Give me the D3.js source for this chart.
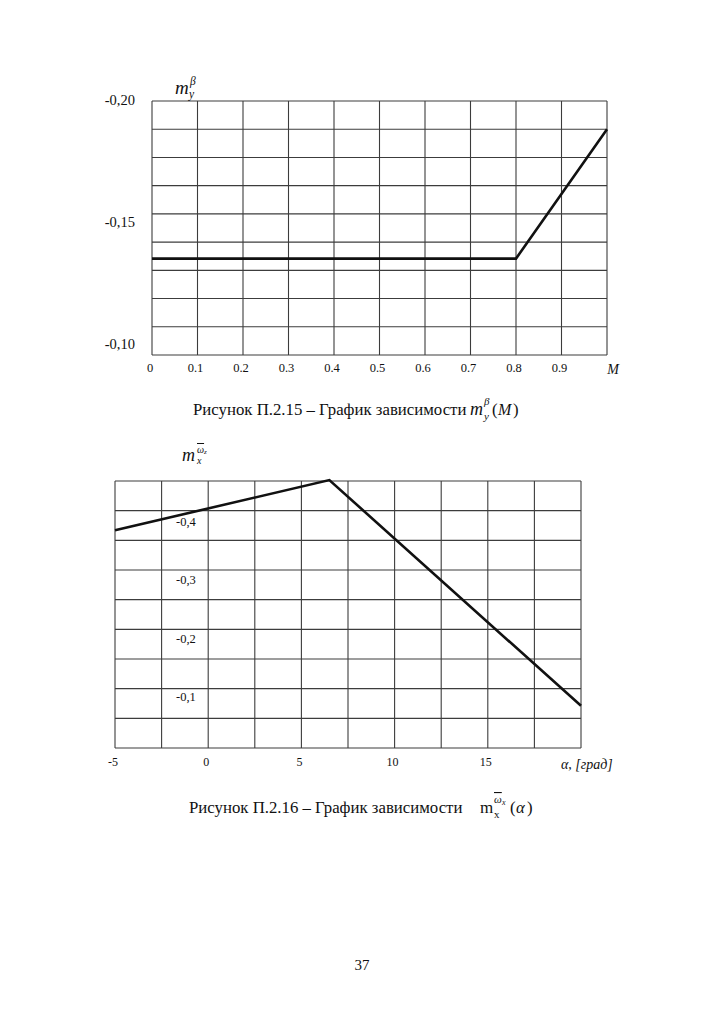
<!DOCTYPE html>
<html>
<head>
<meta charset="utf-8">
<script src="https://cdn.jsdelivr.net/npm/d3@7"></script>
<style>
  body { margin: 0; background: #fff; }
  text { fill: #111; }
</style>
</head>
<body>
<div class="page"></div>
<script>
/* global d3 */
// chart 1: m_y^beta (M)
var machValues = [0, 0.8, 1.0]
var myBetaValues = [-0.135, -0.135, -0.188]
var machTicks = [0, 0.1, 0.2, 0.3, 0.4, 0.5, 0.6, 0.7, 0.8, 0.9]
var machTickLabels = ['0', '0.1', '0.2', '0.3', '0.4', '0.5', '0.6', '0.7', '0.8', '0.9']
var myBetaTicks = [-0.20, -0.15, -0.10]
var myBetaTickLabels = ['-0,20', '-0,15', '-0,10']

// chart 2: m_x^omega_x (alpha)
var alphaValues = [-5, 6.5, 20]
var mxOmegaValues = [-0.385, -0.471, -0.084]
var alphaTicks = [-5, 0, 5, 10, 15]
var alphaTickLabels = ['-5', '0', '5', '10', '15']
var mxOmegaTicks = [-0.4, -0.3, -0.2, -0.1]
var mxOmegaTickLabels = ['-0,4', '-0,3', '-0,2', '-0,1']

;(function () {
  var width = 724
  var height = 1024
  var gridColor = '#3c3c3c'

  var svg = d3.select('.page')
    .append('svg')
    .attr('width', width)
    .attr('height', height)
    .attr('font-family', "'Liberation Serif', 'Times New Roman', serif")

  svg.append('rect')
    .attr('width', width)
    .attr('height', height)
    .attr('fill', '#fff')

  // draws the frame and an evenly divided grid of the plot box
  function grid (g, box, cols, rows) {
    g.selectAll('.vgrid')
      .data(d3.range(cols + 1))
      .enter()
      .append('line')
      .attr('x1', function (d) { return box.left + d * (box.right - box.left) / cols })
      .attr('x2', function (d) { return box.left + d * (box.right - box.left) / cols })
      .attr('y1', box.top)
      .attr('y2', box.bottom)
      .attr('stroke', gridColor)
      .attr('stroke-width', 1.1)

    g.selectAll('.hgrid')
      .data(d3.range(rows + 1))
      .enter()
      .append('line')
      .attr('x1', box.left)
      .attr('x2', box.right)
      .attr('y1', function (d) { return box.top + d * (box.bottom - box.top) / rows })
      .attr('y2', function (d) { return box.top + d * (box.bottom - box.top) / rows })
      .attr('stroke', gridColor)
      .attr('stroke-width', 1.1)
  }

  function txt (g, x, y, s, size, opts) {
    opts = opts || {}
    return g.append('text')
      .attr('x', x)
      .attr('y', y)
      .attr('font-size', size + 'px')
      .attr('font-style', opts.italic ? 'italic' : null)
      .attr('text-anchor', opts.anchor || 'start')
      .attr('text-decoration', opts.bar ? 'overline' : null)
      .text(s)
  }

  // ---------- chart 1 ----------
  var box1 = { left: 152, right: 607, top: 101, bottom: 355 }
  var g1 = svg.append('g')
  var x1 = d3.scaleLinear().domain([0, 1]).range([box1.left, box1.right])
  var y1 = d3.scaleLinear().domain([-0.20, -0.10]).range([100, 344])

  grid(g1, box1, 10, 9)

  g1.append('path')
    .datum(machValues.map(function (d, i) { return [d, myBetaValues[i]] }))
    .attr('fill', 'none')
    .attr('stroke', '#111')
    .attr('stroke-width', 2.6)
    .attr('d', d3.line()
      .x(function (d) { return x1(d[0]) })
      .y(function (d) { return y1(d[1]) }))

  g1.selectAll('.ylab')
    .data(myBetaTicks)
    .enter()
    .append('text')
    .attr('x', 135)
    .attr('y', function (d) { return y1(d) })
    .attr('dy', '0.35em')
    .attr('text-anchor', 'end')
    .attr('font-size', '14.5px')
    .text(function (d, i) { return myBetaTickLabels[i] })

  g1.selectAll('.xlab')
    .data(machTicks)
    .enter()
    .append('text')
    .attr('x', function (d) { return x1(d) - 2 })
    .attr('y', 372)
    .attr('text-anchor', 'middle')
    .attr('font-size', '12.5px')
    .text(function (d, i) { return machTickLabels[i] })

  txt(g1, 613, 374, 'M', 14, { italic: true, anchor: 'middle' })

  // axis title m_y^beta
  txt(g1, 175, 94, 'm', 19, { italic: true })
  txt(g1, 189, 98, 'y', 11.5, { italic: true })
  txt(g1, 190, 85, 'β', 11.5, { italic: true })

  // caption 1
  txt(svg, 193, 415, 'Рисунок П.2.15 – График зависимости', 16.8)
  txt(svg, 470, 415, 'm', 18, { italic: true })
  txt(svg, 484, 420, 'y', 11, { italic: true })
  txt(svg, 484, 405, 'β', 11, { italic: true })
  txt(svg, 492, 415, '(', 16.8)
  txt(svg, 498, 415, 'M', 16, { italic: true })
  txt(svg, 513, 415, ')', 16.8)

  // ---------- chart 2 ----------
  var box2 = { left: 115, right: 581, top: 481, bottom: 748 }
  var g2 = svg.append('g')
  var x2 = d3.scaleLinear().domain([-5, 20]).range([box2.left, box2.right])
  var y2 = d3.scaleLinear().domain([-0.4, -0.1]).range([521.5, 696.5])

  grid(g2, box2, 10, 9)

  g2.append('path')
    .datum(alphaValues.map(function (d, i) { return [d, mxOmegaValues[i]] }))
    .attr('fill', 'none')
    .attr('stroke', '#111')
    .attr('stroke-width', 2.6)
    .attr('d', d3.line()
      .x(function (d) { return x2(d[0]) })
      .y(function (d) { return y2(d[1]) }))

  g2.selectAll('.ylab')
    .data(mxOmegaTicks)
    .enter()
    .append('text')
    .attr('x', 176)
    .attr('y', function (d) { return y2(d) })
    .attr('dy', '0.35em')
    .attr('font-size', '12.5px')
    .text(function (d, i) { return mxOmegaTickLabels[i] })

  g2.selectAll('.xlab')
    .data(alphaTicks)
    .enter()
    .append('text')
    .attr('x', function (d) { return x2(d) - 2 })
    .attr('y', 766)
    .attr('text-anchor', 'middle')
    .attr('font-size', '12px')
    .text(function (d, i) { return alphaTickLabels[i] })

  txt(g2, 561, 769, 'α, [град]', 14, { italic: true })

  // axis title m_x^omega_z
  txt(g2, 182, 461, 'm', 18, { italic: true })
  txt(g2, 197, 464, 'x', 10, { italic: true })
  txt(g2, 197, 453, 'ω', 10, { italic: true, bar: true })
  txt(g2, 204, 454, 'z', 7, { italic: true })

  // caption 2
  txt(svg, 189, 813, 'Рисунок П.2.16 – График зависимости', 16.8)
  txt(svg, 480, 813, 'm', 17)
  txt(svg, 494, 818, 'x', 11)
  txt(svg, 494, 803, 'ω', 11, { italic: true, bar: true })
  txt(svg, 502, 805, 'x', 8, { italic: true })
  txt(svg, 510, 813, '(', 16.8)
  txt(svg, 516, 813, 'α', 16.8, { italic: true })
  txt(svg, 527, 813, ')', 16.8)

  // page number
  txt(svg, 362, 970, '37', 15, { anchor: 'middle' })
})()
</script>
</body>
</html>
